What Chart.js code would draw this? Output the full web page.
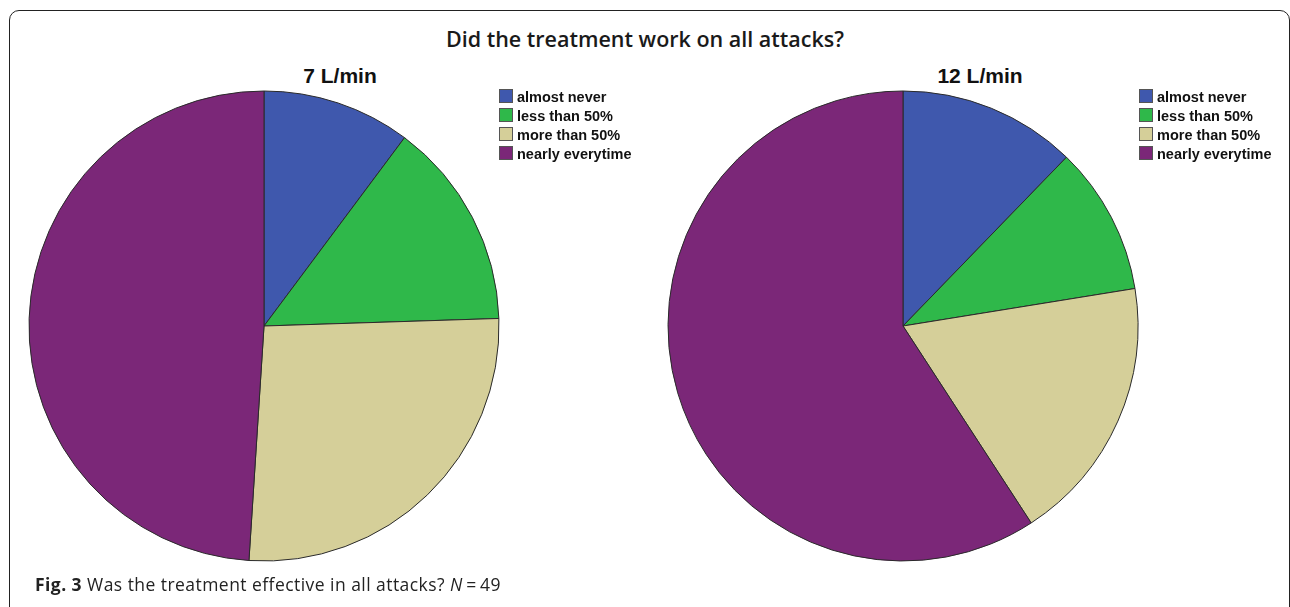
<!DOCTYPE html>
<html>
<head>
<meta charset="utf-8">
<script src="https://cdn.jsdelivr.net/npm/chart.js@4/dist/chart.umd.min.js"></script>
<style>
  html, body { margin: 0; padding: 0; background: #fff; }
  body { width: 1290px; height: 607px; position: relative; overflow: hidden; font-family: "Liberation Sans", Arial, sans-serif; }
  #frame { position: absolute; left: 9px; top: 10px; width: 1281px; height: 610px; border: 1.5px solid #222; border-radius: 10px; box-sizing: border-box; }
  #title { position: absolute; left: 0; width: 1290px; top: 24px; text-align: center; font-family: "Open Sans", sans-serif; font-size: 21.5px; font-weight: 600; color: #1a1a1a; }
  .sub { position: absolute; top: 64px; width: 200px; text-align: center; font-size: 21px; font-weight: bold; color: #111; }
  .pie { position: absolute; top: 76px; width: 500px; height: 500px; }
  .legend { position: absolute; top: 89px; font-size: 14.5px; font-weight: bold; color: #111; }
  .legend div { height: 19px; line-height: 16px; white-space: nowrap; }
  .legend span { display: inline-block; width: 12px; height: 12px; border: 1px solid #555; vertical-align: -1px; margin-right: 4px; }
  #caption { position: absolute; left: 35px; top: 572px; font-family: "Open Sans", sans-serif; font-size: 17.5px; letter-spacing: 0.45px; color: #222; }
</style>
</head>
<body>
<div id="frame"></div>
<div id="title">Did the treatment work on all attacks?</div>
<div class="sub" style="left:240px">7 L/min</div>
<div class="sub" style="left:880px">12 L/min</div>
<div class="pie" style="left:14px"><canvas id="pie7"></canvas></div>
<div class="pie" style="left:653px"><canvas id="pie12"></canvas></div>
<div class="legend" id="leg7" style="left:499px"></div>
<div class="legend" id="leg12" style="left:1139px"></div>
<div id="caption"><b>Fig. 3</b> Was the treatment effective in all attacks? <i>N</i>&thinsp;=&thinsp;49</div>
<script>
const categories = ["almost never", "less than 50%", "more than 50%", "nearly everytime"];
const counts7 = [5, 7, 13, 24];
const counts12 = [6, 5, 9, 29];
const colors = ["#3f58ad", "#2fb84a", "#d5cf99", "#7b2778"];

function drawPie(id, values) {
  new Chart(document.getElementById(id), {
    type: "pie",
    data: {
      labels: categories,
      datasets: [{
        data: values,
        backgroundColor: colors,
        borderColor: "#2a2a2a",
        borderWidth: 1,
        radius: 235
      }]
    },
    options: {
      responsive: true,
      maintainAspectRatio: false,
      animation: false,
      plugins: { legend: { display: false }, tooltip: { enabled: false } }
    }
  });
}

function drawLegend(id) {
  const el = document.getElementById(id);
  categories.forEach((c, i) => {
    el.innerHTML += `<div><span style="background:${colors[i]}"></span>${c}</div>`;
  });
}

drawPie("pie7", counts7);
drawPie("pie12", counts12);
drawLegend("leg7");
drawLegend("leg12");
</script>
</body>
</html>
